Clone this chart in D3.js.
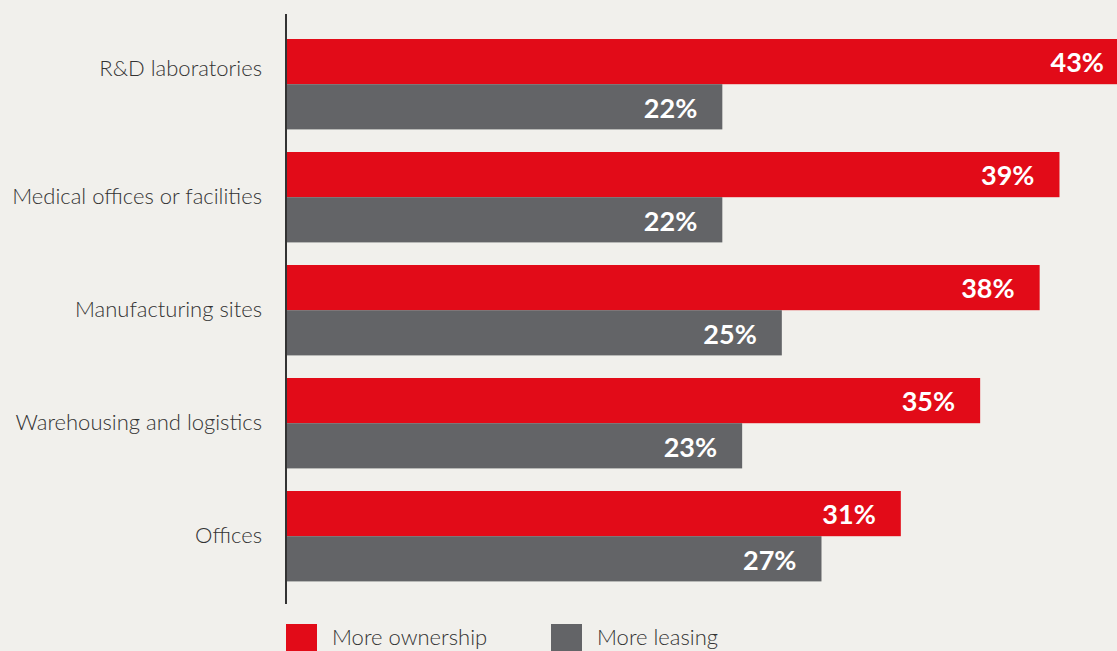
<!DOCTYPE html>
<html>
<head>
<meta charset="utf-8">
<script src="https://cdn.jsdelivr.net/npm/d3@7"></script>
<style>
  html, body { margin: 0; padding: 0; background: #f1f0ec; overflow: hidden; }
  svg { display: block; }
</style>
</head>
<body>
<svg id="chart" width="1117" height="651"></svg>
<script>
// Property types and share of respondents favouring each approach
const categories = ["R&D laboratories", "Medical offices or facilities", "Manufacturing sites", "Warehousing and logistics", "Offices"];
const seriesNames = ["More ownership", "More leasing"];
const ownership = [43, 39, 38, 35, 31];
const leasing = [22, 22, 25, 23, 27];
const seriesColors = ["#e20b18", "#636467"];

const W = 1117, H = 651;
const svg = d3.select("#chart");
svg.append("rect").attr("width", W).attr("height", H).attr("fill", "#f1f0ec");

const axisX = 286;
const x = d3.scaleLinear().domain([0, 41.9]).range([axisX, W]);
const y = d3.scaleBand().domain(categories).range([27.7, 592.7]).paddingInner(0.2).paddingOuter(0.1);
const ySub = d3.scaleBand().domain(seriesNames).range([0, y.bandwidth()]);

const rows = categories.map((c, i) => ({ cat: c, values: [ownership[i], leasing[i]] }));

const groups = svg.append("g").selectAll("g").data(rows).join("g")
  .attr("transform", d => `translate(0,${y(d.cat)})`);

const bars = groups.selectAll("g.bar").data(d => d.values.map((v, j) => ({ v, s: seriesNames[j], j })))
  .join("g").attr("class", "bar");

bars.append("rect")
  .attr("x", x(0))
  .attr("y", d => ySub(d.s))
  .attr("width", d => x(d.v) - x(0))
  .attr("height", ySub.bandwidth())
  .attr("fill", d => seriesColors[d.j]);

// Value labels sit inside the bar end; bars running off the edge keep theirs in view
bars.append("text")
  .attr("x", d => Math.min(x(d.v), W + 12) - 25)
  .attr("y", d => ySub(d.s) + ySub.bandwidth() / 2 + 1)
  .attr("dy", "0.36em")
  .attr("text-anchor", "end")
  .attr("fill", "#ffffff")
  .attr("font-family", "Lato, 'Open Sans', sans-serif")
  .attr("font-weight", 700)
  .attr("font-size", 27)
  .text(d => d.v + "%");

// Category labels, to the left of the axis line
svg.append("g").selectAll("text").data(categories).join("text")
  .attr("x", 262)
  .attr("y", (d, i) => y(d) + y.bandwidth() / 2 + (i === 0 ? -15 : 0))
  .attr("dy", "0.3em")
  .attr("text-anchor", "end")
  .attr("fill", "#333333")
  .attr("font-family", "Lato, 'Open Sans', sans-serif")
  .attr("font-weight", 300)
  .attr("font-size", 22)
  .text(d => d);

// Vertical axis line
svg.append("line")
  .attr("x1", axisX).attr("x2", axisX)
  .attr("y1", 14).attr("y2", 604)
  .attr("stroke", "#333333").attr("stroke-width", 2);

// Legend
const legend = svg.append("g").selectAll("g").data(seriesNames).join("g")
  .attr("transform", (d, i) => `translate(${axisX + i * 265},624)`);
legend.append("rect").attr("width", 31).attr("height", 31).attr("fill", (d, i) => seriesColors[i]);
legend.append("text")
  .attr("x", 46).attr("y", 21)
  .attr("fill", "#333333")
  .attr("font-family", "Lato, 'Open Sans', sans-serif")
  .attr("font-weight", 300)
  .attr("font-size", 22)
  .text(d => d);
</script>
</body>
</html>
